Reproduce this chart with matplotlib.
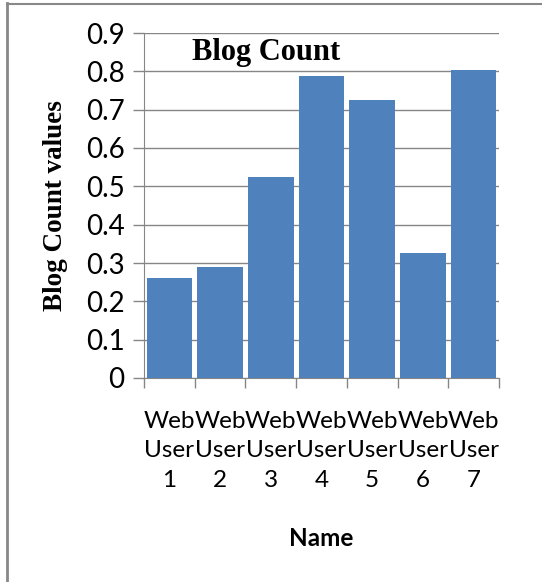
import matplotlib
matplotlib.use('Agg')
import matplotlib.pyplot as plt
import numpy as np

# ── data ──────────────────────────────────────────────────────────────────────
names = ['Web\nUser\n1', 'Web\nUser\n2', 'Web\nUser\n3', 'Web\nUser\n4',
         'Web\nUser\n5', 'Web\nUser\n6', 'Web\nUser\n7']
blog_count = [0.261, 0.290, 0.524, 0.788, 0.725, 0.326, 0.804]
y_ticks = [0, 0.1, 0.2, 0.3, 0.4, 0.5, 0.6, 0.7, 0.8, 0.9]

SANS = 'Lato'
SERIF = 'Liberation Serif'
FS = 20

fig = plt.figure(figsize=(5.42, 5.82), dpi=100)
ax = fig.add_axes([144/542, 1 - 378/582, (499 - 144)/542, (378 - 33)/582])

x = np.arange(len(names))
ax.bar(x, blog_count, width=0.9, color='#4f81bd', zorder=3)

ax.set_xlim(-0.5, len(names) - 0.5)
ax.set_ylim(0, 0.9)
ax.set_yticks(y_ticks)
ax.set_yticklabels([f'{v:g}' for v in y_ticks], fontfamily=SANS, fontsize=FS)
ax.yaxis.grid(True, color='#868686', lw=1.0, zorder=0)

# category labels centred under bars, ticks on the boundaries
ax.set_xticks(np.arange(len(names) + 1) - 0.5)
ax.set_xticklabels([])
ax.set_xticks(x, minor=True)
ax.set_xticklabels(names, minor=True, fontfamily=SANS, fontsize=17.5,
                   linespacing=1.48)
ax.tick_params(axis='x', which='minor', length=0, pad=24)
ax.tick_params(axis='x', which='major', length=7, color='#868686', width=1)
ax.tick_params(axis='y', length=8, color='#868686', width=1, pad=6)

for s in ['top', 'right']:
    ax.spines[s].set_visible(False)
ax.spines['left'].set_color('#868686')
ax.spines['bottom'].set_color('#868686')

ax.text(0.345, 0.985, 'Blog Count', transform=ax.transAxes, ha='center', va='top',
        fontfamily=SERIF, fontweight='bold', fontsize=22)
fig.text(55/542, 1 - 206/582, 'Blog Count values', rotation=90, ha='center',
         va='center', fontfamily=SERIF, fontweight='bold', fontsize=19.5)
fig.text(321/542, 1 - 538/582, 'Name', ha='center', va='center',
         fontfamily=SANS, fontweight='bold', fontsize=17.5)

# outer frame edges
fig.add_artist(plt.Line2D([6.5/542, 6.5/542], [0, 1 - 3/582], color='#888888', lw=2))
fig.add_artist(plt.Line2D([6.5/542, 1], [1 - 3.5/582, 1 - 3.5/582], color='#888888', lw=1.5))

fig.savefig('out.png', dpi=100)
